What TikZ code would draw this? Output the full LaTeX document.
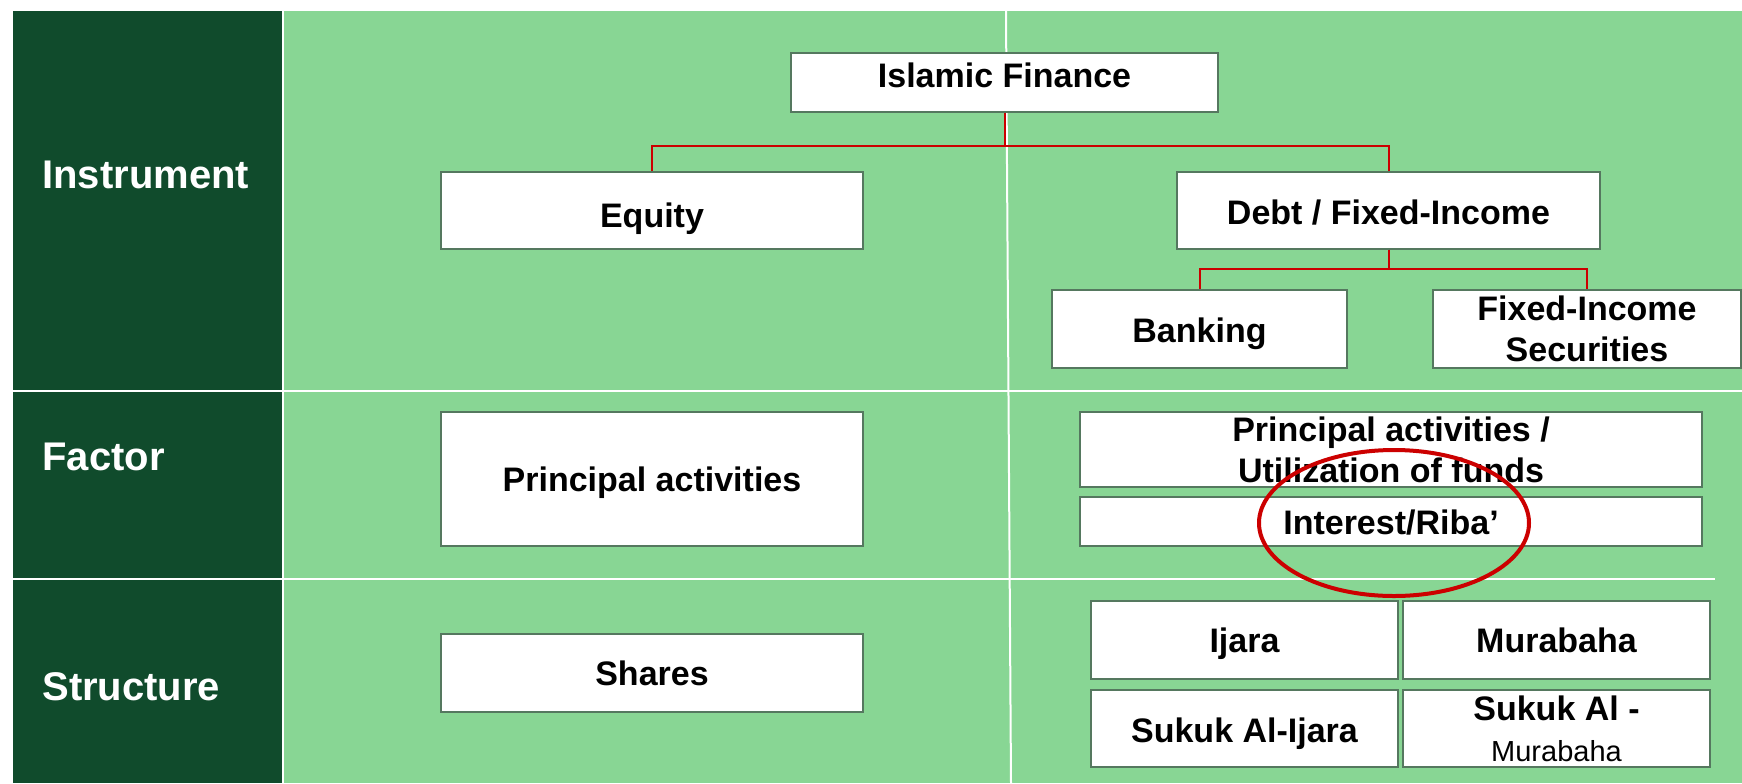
\documentclass[tikz,border=0pt]{standalone}
\usepackage{fontspec}
\setmainfont{Liberation Sans}
\definecolor{darkcol}{RGB}{16,75,44}
\definecolor{lightcol}{RGB}{136,214,148}
\definecolor{boxline}{RGB}{85,120,95}
\definecolor{linkred}{RGB}{204,0,0}
\tikzset{box/.style = {draw=boxline, line width=0.7pt, fill=white, align=center,
                       inner sep=0pt, font=\fontsize{17}{20.5}\selectfont\bfseries},
         oneline/.style = {box, text height=12.5pt, text depth=0pt},
         rowlabel/.style = {anchor=base west, text=white, inner sep=0pt,
                            font=\fontsize{20}{24}\selectfont\bfseries},
         link/.style = {draw=linkred, line width=1pt},
         sep/.style = {draw=white, line width=1.3pt},
         ring/.style = {draw=linkred, line width=2pt}}

\begin{document}
\begin{tikzpicture}[x=0.5pt, y=-0.5pt]
    \useasboundingbox (0, 0) rectangle (1742, 783);
    \fill [white] (0, 0) rectangle (1742, 783);
    \fill [darkcol] (13, 11) rectangle (283, 783);
    \fill [lightcol] (283, 11) rectangle (1742, 783);
    \draw [sep] (283, 11) -- (283, 783);
    \draw [sep] (13, 391) -- (1742, 391);
    \draw [sep] (13, 579) -- (1715, 579);
    \draw [sep, line width=1pt] (1006, 11) -- (1011, 783);

    \node [rowlabel] (instr) at (42, 188) {Instrument};
    \node [rowlabel] (factor) at (42, 470) {Factor};
    \node [rowlabel] (struct) at (42, 700) {Structure};

    \node [oneline, text depth=8pt, minimum width=213.5pt, minimum height=29.5pt] (fin) at (1004.5, 82.5) {Islamic Finance};
    \node [oneline, text height=16.5pt, minimum width=211pt, minimum height=38.5pt] (equity) at (652, 210.5) {Equity};
    \node [oneline, text height=13.5pt, minimum width=211.5pt, minimum height=38.5pt] (debt) at (1388.5, 210.5) {Debt / Fixed-Income};
    \node [oneline, text height=13pt, minimum width=147.5pt, minimum height=39pt] (bank) at (1199.5, 329) {Banking};
    \node [box, minimum width=154pt, minimum height=39pt] (fisec) at (1587, 329) {Fixed-Income\\Securities};

    \node [oneline, minimum width=211pt, minimum height=67pt] (prinl) at (652, 479) {Principal activities};
    \node [box, minimum width=311pt, minimum height=37.5pt] (prinr) at (1391, 449.5) {Principal activities /\\Utilization of funds};
    \node [oneline, minimum width=311pt, minimum height=24.5pt] (riba) at (1391, 521.5) {Interest/Riba’};

    \node [oneline, minimum width=211pt, minimum height=39pt] (shares) at (652, 673) {Shares};
    \node [oneline, minimum width=153.5pt, minimum height=39pt] (ijara) at (1244.5, 640) {Ijara};
    \node [oneline, minimum width=153.5pt, minimum height=39pt] (mura) at (1556.5, 640) {Murabaha};
    \node [oneline, text height=13.5pt, minimum width=153.5pt, minimum height=38.5pt] (sukij) at (1244.5, 728.5) {Sukuk Al-Ijara};
    \node [box, minimum width=153.5pt, minimum height=38.5pt] (sukmu) at (1556.5, 728.5) {Sukuk Al -\\{\fontsize{14.5}{20.5}\selectfont\mdseries Murabaha}};

    \draw [link] (fin.south) -- ++(0, 33) -| (equity.north);
    \draw [link] (fin.south) -- ++(0, 33) -| (debt.north);
    \draw [link] (debt.south) -- ++(0, 19) -| (bank.north);
    \draw [link] (debt.south) -- ++(0, 19) -| (fisec.north);

    \draw [ring] (1394, 523) ellipse [x radius=135, y radius=73];
\end{tikzpicture}
\end{document}
